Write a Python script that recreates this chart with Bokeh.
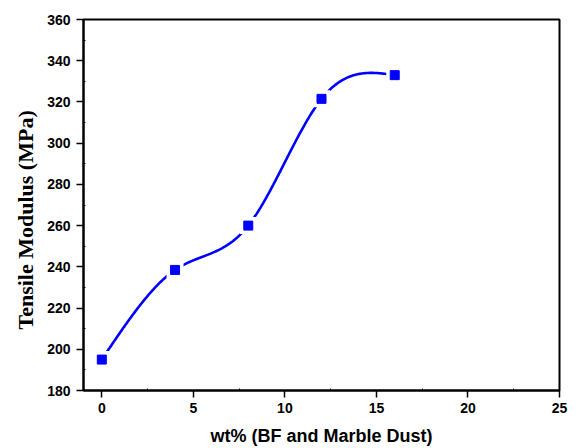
import numpy as np
from bokeh.plotting import figure
from bokeh.models import Range1d, FixedTicker, ColumnDataSource, Title
from bokeh.embed import file_html
from bokeh.resources import INLINE

# data
wt = [0, 4, 8, 12, 16]
modulus = [195, 238.5, 260, 321.5, 333]
x_ticks = [0, 5, 10, 15, 20, 25]
x_minor = [2.5, 7.5, 12.5, 17.5, 22.5]
y_ticks = [180, 200, 220, 240, 260, 280, 300, 320, 340, 360]
y_minor = [190, 210, 230, 250, 270, 290, 310, 330, 350]
x_title = "wt% (BF and Marble Dust)"
y_title = "Tensile Modulus (MPa)"


def natural_spline(xs, ys, n=300):
    xs = np.asarray(xs, float)
    ys = np.asarray(ys, float)
    k = len(xs)
    h = np.diff(xs)
    A = np.zeros((k, k))
    b = np.zeros(k)
    A[0, 0] = 1
    A[-1, -1] = 1
    for i in range(1, k - 1):
        A[i, i - 1] = h[i - 1]
        A[i, i] = 2 * (h[i - 1] + h[i])
        A[i, i + 1] = h[i]
        b[i] = 6 * ((ys[i + 1] - ys[i]) / h[i] - (ys[i] - ys[i - 1]) / h[i - 1])
    M = np.linalg.solve(A, b)
    xx = np.linspace(xs[0], xs[-1], n)
    yy = np.empty_like(xx)
    for j, x in enumerate(xx):
        i = min(np.searchsorted(xs, x, side="right") - 1, k - 2)
        t1 = xs[i + 1] - x
        t0 = x - xs[i]
        yy[j] = (M[i] * t1 ** 3 + M[i + 1] * t0 ** 3) / (6 * h[i]) \
            + (ys[i] / h[i] - M[i] * h[i] / 6) * t1 \
            + (ys[i + 1] / h[i] - M[i + 1] * h[i] / 6) * t0
    return xx, yy


cx, cy = natural_spline(wt, modulus)

p = figure(width=576, height=448, output_backend="svg", toolbar_location=None,
           x_range=Range1d(-1, 25), y_range=Range1d(180, 360),
           min_border_left=83, min_border_right=17, min_border_top=19, min_border_bottom=57,
           x_axis_label=x_title)
p.grid.visible = False
p.outline_line_color = "black"
p.outline_line_width = 2

p.line(cx, cy, line_color="#0000FF", line_width=2.6)
src = ColumnDataSource(dict(x=wt, y=modulus))
p.scatter("x", "y", source=src, marker="square", size=17, fill_color="white", line_color=None)
p.scatter("x", "y", source=src, marker="square", size=9, fill_color="#0000FF", line_color="#0000FF")

for ax in (p.xaxis[0], p.yaxis[0]):
    ax.axis_line_width = 2
    ax.major_tick_line_width = 1.5
    ax.minor_tick_line_width = 1
    ax.major_tick_out = 7
    ax.major_tick_in = 0
    ax.minor_tick_out = 0
    ax.minor_tick_in = 2
    ax.major_label_text_font = "Liberation Sans"
    ax.major_label_text_font_style = "bold"
    ax.major_label_text_font_size = "14px"
    ax.major_label_text_color = "black"

p.xaxis[0].ticker = FixedTicker(ticks=x_ticks, minor_ticks=x_minor)
p.yaxis[0].ticker = FixedTicker(ticks=y_ticks, minor_ticks=y_minor)
p.xaxis[0].major_label_standoff = 5
p.yaxis[0].major_label_standoff = 6

p.xaxis[0].axis_label_text_font = "Liberation Sans"
p.xaxis[0].axis_label_text_font_style = "bold"
p.xaxis[0].axis_label_text_font_size = "18px"
p.xaxis[0].axis_label_text_color = "black"
p.xaxis[0].axis_label_standoff = 10

ytitle = Title(text=y_title, align="left", offset=61, standoff=14,
               text_font="Liberation Serif", text_font_style="bold",
               text_font_size="22px", text_color="black")
p.add_layout(ytitle, "left")

open("out.html", "w").write(file_html(p, INLINE))
